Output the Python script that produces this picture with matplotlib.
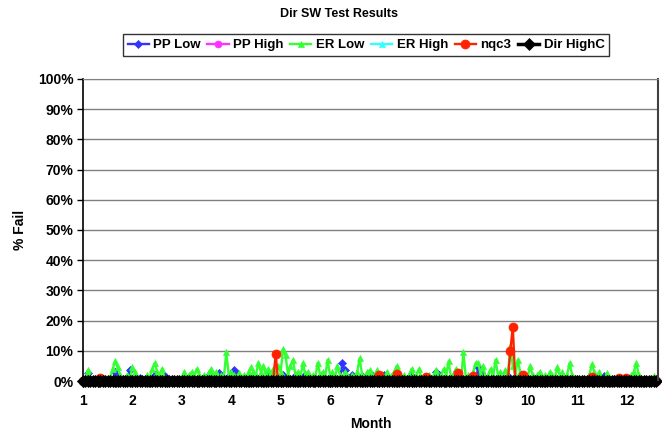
import numpy as np
import matplotlib
matplotlib.use("Agg")
import matplotlib.pyplot as plt
from matplotlib.ticker import FixedLocator, MultipleLocator, FuncFormatter

plt.rcParams['font.family'] = ['Liberation Sans', 'DejaVu Sans']
plt.rcParams['font.weight'] = 'bold'

# x positions: month (fractional), one sample every 0.05 month
month = np.round(1.0 + 0.05 * np.arange(233), 2)

er_low = [
    0, 1, 3.5, 1, 0, 0, 1, 0, 1, 0, 0, 1, 4, 6.5, 4.5, 2, 1, 0, 2, 1,
    4.5, 3, 1, 0, 1, 0, 2, 1, 4, 6, 3, 2, 4, 1, 0, 0, 0, 0, 0, 0,
    0, 3, 1, 2, 3, 1, 4, 2, 1, 2, 1, 3, 4, 2, 3, 1, 2, 1, 9.5, 2,
    3, 2, 1, 2.5, 1, 2, 1, 3, 4.5, 3, 2, 6, 3, 5, 2, 4, 1, 4, 2, 5,
    3, 10.5, 8.5, 2, 5, 7, 2, 3, 1, 6, 2, 3, 1, 2, 1, 6, 2, 3, 1, 7,
    2, 3, 1, 5, 2, 1, 3, 2, 1, 2, 1, 3, 7.5, 2, 1, 3, 3.5, 2, 1, 3.5,
    1, 2, 1, 3, 1, 2, 3, 5, 2, 1, 2, 1, 2, 4, 1, 2, 4, 1, 0, 1,
    2, 1, 2, 3.5, 1, 2, 4, 2, 6.5, 1, 2, 4, 1, 0, 9.5, 1, 2, 1, 3, 6,
    6, 2, 5, 1, 2, 4, 1, 7, 2, 3, 1, 3.5, 2, 11.5, 5, 2, 7, 3, 1, 2,
    1, 5, 2, 1, 2, 3, 1, 2, 1, 3, 2, 1, 4.5, 2, 3, 1, 2, 6, 2, 1,
    1, 0, 1, 0, 1, 2, 5.5, 3, 1, 3, 1, 0, 2.5, 1, 0, 1, 0, 0, 1, 0,
    0, 1, 2, 3, 6, 2, 1, 0, 0, 0, 0, 1.5, 0,
]

pp_low = [
    0, 0, 2.5, 0, 0, 0, 0, 0, 0, 0, 0, 0, 0, 3, 1.5, 0, 0, 0, 0, 3.5,
    0, 0, 0, 1, 0, 0, 0, 0, 0, 2, 0, 0, 0, 1.5, 0, 0, 0, 0, 0, 0,
    0, 0, 0, 0, 0, 0, 0, 0, 0, 0, 0, 2, 0, 0, 0, 2.5, 0, 0, 0, 1.5,
    0, 3.5, 2.5, 0, 0, 0, 0, 1, 0, 0, 0, 0, 0, 0, 0, 1.5, 0, 0, 0, 0,
    0, 2, 0, 0, 0, 0, 1.5, 0, 0, 0, 2, 0, 0, 0, 1, 0, 0, 1.5, 0, 0,
    0, 0, 0, 0, 0, 6, 3.5, 0, 0, 2, 1, 0, 0, 1.5, 0, 0, 0, 2, 0, 0,
    0, 0, 2, 0, 0, 0, 0, 1.5, 0, 0, 0, 0, 0, 1.5, 0, 0, 0, 0, 0, 0,
    0, 0, 0, 3, 2, 0, 0, 0, 0, 0, 1.5, 0, 0, 0, 0, 0, 0, 0, 0, 0,
    4.5, 2.5, 0, 0, 0, 0, 1, 0, 0, 0, 0, 0, 1.5, 0, 0, 0, 1, 0, 0, 0,
    0, 0, 0, 0, 0, 0, 0, 0, 0, 0, 0, 0, 0, 0, 1, 0, 0, 0, 0, 0,
    0, 0, 0, 0, 0, 0, 0, 0, 0, 0, 0, 1.5, 0, 0, 0, 0, 0, 0, 0, 0,
    0, 0, 0, 0, 0, 0, 0, 0, 0, 0, 0, 0, 0,
]

pp_high = [
    0, 0, 0, 0, 0, 0, 0, 0, 0, 0, 0, 0, 0, 0, 0, 0, 0, 0, 0, 0,
    0, 0, 0, 0, 0, 0, 0, 0, 0, 0, 0, 0, 0, 0, 0, 0, 0, 0, 0, 0,
    0, 0, 0, 0, 0, 0, 0, 0, 0, 0, 0, 0, 0, 0, 0, 0, 0, 0, 0, 0,
    0, 0, 0, 0, 0, 0, 0, 0, 0, 0, 0, 0, 0, 0, 0, 0, 0, 0, 0, 0,
    0, 0, 0, 0, 0, 0, 0, 0, 0, 0, 0, 0, 0, 0, 0, 0, 0, 0, 0, 0,
    0, 0, 0, 0, 0, 0, 0, 0, 0, 0, 0, 0, 0, 0, 0, 0, 0, 0, 0, 0,
    0, 0, 0, 0, 0, 0, 0, 0, 0, 0, 0, 0, 0, 0, 0, 0, 0, 0, 0, 0,
    0, 0, 0, 0, 0, 0, 0, 0, 0, 0, 0, 2.5, 0, 0, 0, 0, 0, 0, 0, 0,
    0, 0, 0, 0, 0, 0, 0, 0, 0, 0, 0, 0, 0, 0, 0, 0, 0, 0, 0, 0,
    0, 0, 0, 0, 0, 0, 0, 0, 0, 0, 0, 0, 0, 0, 0, 0, 0, 0, 0, 0,
    0, 0, 0, 0, 0, 0, 0, 0, 0, 0, 0, 0, 0, 0, 0, 0, 0, 0, 0, 0,
    0, 0, 0, 0, 0, 0, 0, 0, 0, 0, 0, 0, 0,
]

er_high = [
    0, 0, 0, 0, 0, 0, 0, 0, 0, 0, 0, 0, 0, 0, 0, 0, 0, 0, 0, 0,
    0, 0, 0, 0, 0, 0, 0, 0, 0, 0, 0, 0, 0, 0, 0, 0, 0, 0, 0, 0,
    0, 0, 0, 0, 0, 0, 0, 0, 0, 0, 0, 0, 0, 0, 0, 0, 0, 0, 0, 0,
    0, 0, 0, 0, 0, 0, 0, 0, 0, 0, 0, 0, 0, 0, 0, 0, 0, 0, 0, 0,
    0, 0, 0, 0, 0, 0, 0, 0, 0, 0, 0, 0, 0, 0, 0, 0, 0, 0, 0, 0,
    0, 0, 0, 0, 0, 0, 0, 0, 0, 0, 0, 0, 0, 0, 0, 0, 0, 0, 0, 0,
    0, 0, 0, 0, 0, 0, 0, 0, 0, 0, 0, 0, 0, 0, 0, 0, 0, 0, 0, 0,
    0, 0, 0, 0, 0, 0, 0, 0, 0, 0, 0, 0, 0, 0, 0, 0, 0, 0, 0, 0,
    0, 0, 0, 0, 0, 0, 0, 0, 0, 0, 0, 0, 0, 0, 0, 0, 0, 0, 0, 0,
    0, 0, 0, 0, 0, 0, 0, 0, 0, 0, 0, 0, 0, 0, 0, 0, 0, 0, 0, 0,
    0, 0, 0, 0, 0, 0, 0, 0, 0, 0, 0, 0, 0, 0, 0, 0, 0, 0, 0, 0,
    0, 0, 0, 0, 0, 0, 0, 0, 0, 0, 0, 0, 0,
]

nqc3 = [
    0, 0, 0, 0, 0, 0, 0, 1, 0, 0, 0, 0, 0, 0, 0, 0, 0, 0, 0, 0,
    0, 0, 0, 0, 0, 0, 0, 0, 0, 0, 0, 0, 0, 0, 0, 0, 0, 0, 0, 0,
    0, 0, 0, 0, 0, 0, 0, 0, 0, 0, 0, 0, 0, 0, 0, 0, 0, 0, 0, 0,
    0, 0, 0, 0, 0, 0, 0, 0, 0, 0, 0, 0, 0, 0, 0, 0, 0, 0, 9, 0,
    0, 0, 0, 0, 0, 0, 0, 0, 0, 0, 0, 0, 0, 0, 0, 0, 0, 0, 0, 0,
    0, 0, 0, 0, 0, 0, 0, 0, 0, 0, 0, 0, 0, 0, 0, 0, 0, 0, 0, 0,
    2, 0, 0, 0, 0, 0, 0, 2.3, 0, 0, 0, 0, 0, 0, 0, 0, 0, 0, 0, 1.3,
    0, 0, 0, 0, 0, 0, 0, 0, 0, 0, 0, 0, 2.7, 0, 0, 0, 0, 0, 1.7, 0,
    0, 0, 0, 0, 0, 0, 0, 0, 0, 0, 0, 0, 0, 10, 18, 0, 0, 0, 2, 0,
    0, 0, 0, 0, 0, 0, 0, 0, 0, 0, 0, 0, 0, 0, 0, 0, 0, 0, 0, 0,
    0, 0, 0, 0, 0, 0, 1.3, 0, 0, 0, 0, 0, 0, 0, 0, 0, 0, 1, 0, 0,
    1, 0, 0, 0, 0, 0, 0, 0, 0, 0, 0, 0, 0,
]

dir_highc = [
    0, 0, 0, 0, 0, 0, 0, 0, 0, 0, 0, 0, 0, 0, 0, 0, 0, 0, 0, 0,
    0, 0, 0, 0, 0, 0, 0, 0, 0, 0, 0, 0, 0, 0, 0, 0, 0, 0, 0, 0,
    0, 0, 0, 0, 0, 0, 0, 0, 0, 0, 0, 0, 0, 0, 0, 0, 0, 0, 0, 0,
    0, 0, 0, 0, 0, 0, 0, 0, 0, 0, 0, 0, 0, 0, 0, 0, 0, 0, 0, 0,
    0, 0, 0, 0, 0, 0, 0, 0, 0, 0, 0, 0, 0, 0, 0, 0, 0, 0, 0, 0,
    0, 0, 0, 0, 0, 0, 0, 0, 0, 0, 0, 0, 0, 0, 0, 0, 0, 0, 0, 0,
    0, 0, 0, 0, 0, 0, 0, 0, 0, 0, 0, 0, 0, 0, 0, 0, 0, 0, 0, 0,
    0, 0, 0, 0, 0, 0, 0, 0, 0, 0, 0, 0, 0, 0, 0, 0, 0, 0, 0, 0,
    0, 0, 0, 0, 0, 0, 0, 0, 0, 0, 0, 0, 0, 0, 0, 0, 0, 0, 0, 0,
    0, 0, 0, 0, 0, 0, 0, 0, 0, 0, 0, 0, 0, 0, 0, 0, 0, 0, 0, 0,
    0, 0, 0, 0, 0, 0, 0, 0, 0, 0, 0, 0, 0, 0, 0, 0, 0, 0, 0, 0,
    0, 0, 0, 0, 0, 0, 0, 0, 0, 0, 0, 0, 0,
]

month_labels = [1, 2, 3, 4, 5, 6, 7, 8, 9, 10, 11, 12]
y_ticks = [0, 10, 20, 30, 40, 50, 60, 70, 80, 90, 100]

series = [
    ("PP Low", pp_low, "#3333FF", "D", 4.0),
    ("PP High", pp_high, "#FF33FF", "o", 5.0),
    ("ER Low", er_low, "#33FF33", "^", 5.0),
    ("ER High", er_high, "#33FFFF", "^", 5.0),
    ("nqc3", nqc3, "#FF2200", "o", 6.5),
    ("Dir HighC", dir_highc, "#000000", "D", 6.0),
]

fig = plt.figure(figsize=(6.62, 4.34), dpi=100)
ax = fig.add_axes([0.1254, 0.1221, 0.8686, 0.6959])

for name, vals, col, mk, ms in series:
    lw = 2.5 if name == "Dir HighC" else 1.7
    ax.plot(month, vals, color=col, marker=mk, markersize=ms, linewidth=lw,
            markeredgewidth=0.5, markeredgecolor=col, label=name, clip_on=False)

ax.set_xlim(1, 12.64)
ax.set_ylim(0, 100)
ax.yaxis.set_major_locator(FixedLocator(y_ticks))
ax.yaxis.set_major_formatter(FuncFormatter(lambda v, p: f"{int(v)}%"))
ax.xaxis.set_major_locator(FixedLocator(month_labels))
ax.xaxis.set_minor_locator(MultipleLocator(1 / 3))
ax.set_xticklabels([str(m) for m in month_labels])
ax.tick_params(axis='x', which='both', length=4, width=1, direction='out',
               labelsize=10, pad=5)
ax.tick_params(axis='y', which='both', length=4, width=1, direction='out',
               labelsize=10, pad=3)
for lbl in ax.get_xticklabels() + ax.get_yticklabels():
    lbl.set_fontweight('bold')

ax.grid(axis='y', color='#808080', linewidth=1)
ax.set_axisbelow(True)
ax.spines['left'].set_color('black')
ax.spines['left'].set_linewidth(1.2)
ax.spines['bottom'].set_color('black')
ax.spines['right'].set_color('#404040')
ax.spines['right'].set_linewidth(1.5)
ax.spines['top'].set_color('#808080')

ax.set_xlabel("Month", fontsize=10, fontweight='bold', labelpad=7)
ax.set_ylabel("% Fail", fontsize=10, fontweight='bold', labelpad=8)

fig.text(0.512, 0.967, "Dir SW Test Results", ha='center', va='center',
         fontsize=9, fontweight='bold')

leg = fig.legend(loc='center', bbox_to_anchor=(0.553, 0.896), ncol=6,
                 frameon=True, fancybox=False, edgecolor='black',
                 prop={'weight': 'bold', 'size': 9.5}, handlelength=1.6,
                 columnspacing=0.5, handletextpad=0.35, borderpad=0.35,
                 markerscale=1.0)
leg.get_frame().set_linewidth(1.0)

fig.savefig("out.png", dpi=100)
